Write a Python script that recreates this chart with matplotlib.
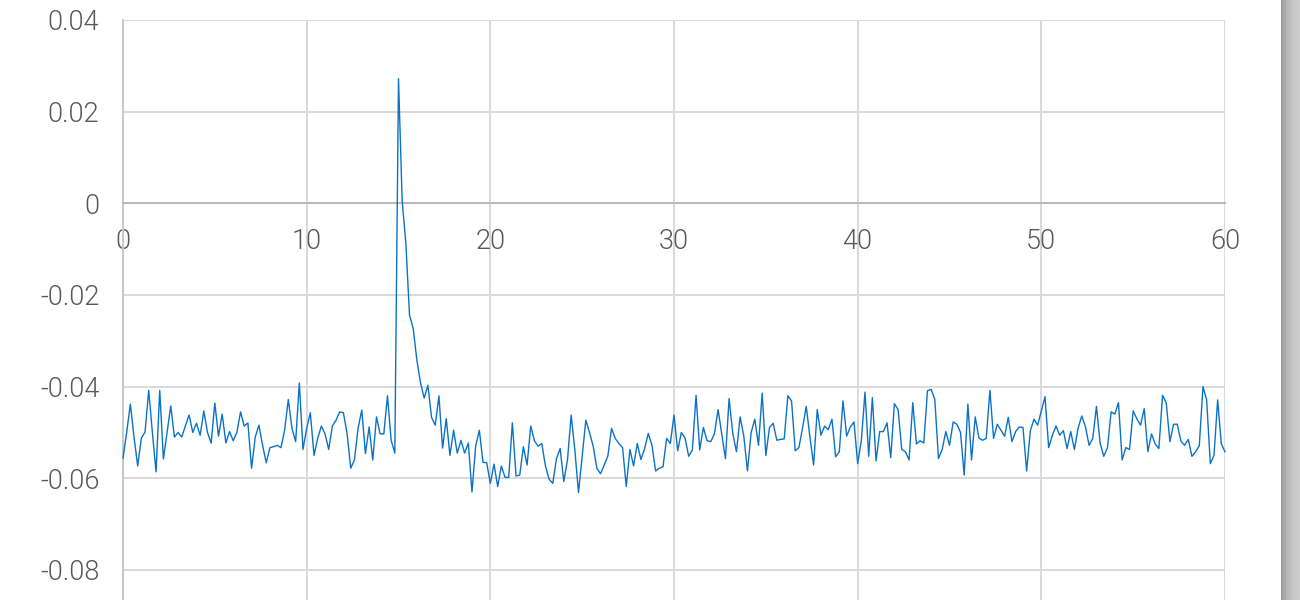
import numpy as np
import matplotlib
matplotlib.use("Agg")
import matplotlib.pyplot as plt
from matplotlib.colors import LinearSegmentedColormap

# ---- data ----
x_start, x_stop, n_points = 0.0, 60.0, 301
signal = [
    -0.0556, -0.0500, -0.0438, -0.0510, -0.0573, -0.0512, -0.0499, -0.0408, -0.0500, -0.0586,
    -0.0408, -0.0558, -0.0500, -0.0442, -0.0510, -0.0500, -0.0510, -0.0485, -0.0462, -0.0500,
    -0.0480, -0.0506, -0.0453, -0.0500, -0.0523, -0.0436, -0.0508, -0.0460, -0.0523, -0.0498,
    -0.0518, -0.0500, -0.0455, -0.0486, -0.0479, -0.0578, -0.0510, -0.0484, -0.0528, -0.0566,
    -0.0533, -0.0531, -0.0528, -0.0533, -0.0495, -0.0428, -0.0491, -0.0520, -0.0392, -0.0537,
    -0.0491, -0.0457, -0.0550, -0.0513, -0.0486, -0.0503, -0.0537, -0.0486, -0.0473, -0.0455,
    -0.0457, -0.0502, -0.0578, -0.0560, -0.0491, -0.0451, -0.0546, -0.0488, -0.0560, -0.0466,
    -0.0503, -0.0503, -0.0420, -0.0517, -0.0545, 0.0272, 0.0005, -0.0087, -0.0244, -0.0273,
    -0.0342, -0.0392, -0.0425, -0.0397, -0.0467, -0.0484, -0.0420, -0.0534, -0.0470, -0.0550,
    -0.0495, -0.0545, -0.0517, -0.0545, -0.0523, -0.0630, -0.0530, -0.0495, -0.0565, -0.0566,
    -0.0611, -0.0569, -0.0618, -0.0573, -0.0598, -0.0598, -0.0479, -0.0595, -0.0593, -0.0531,
    -0.0571, -0.0486, -0.0518, -0.0530, -0.0524, -0.0573, -0.0602, -0.0611, -0.0557, -0.0535,
    -0.0607, -0.0560, -0.0462, -0.0538, -0.0631, -0.0553, -0.0473, -0.0500, -0.0530, -0.0578,
    -0.0590, -0.0571, -0.0551, -0.0491, -0.0513, -0.0524, -0.0533, -0.0618, -0.0537, -0.0573,
    -0.0524, -0.0559, -0.0535, -0.0502, -0.0528, -0.0584, -0.0578, -0.0575, -0.0513, -0.0524,
    -0.0462, -0.0540, -0.0500, -0.0512, -0.0552, -0.0538, -0.0419, -0.0538, -0.0489, -0.0518,
    -0.0520, -0.0503, -0.0450, -0.0503, -0.0557, -0.0426, -0.0502, -0.0542, -0.0466, -0.0508,
    -0.0584, -0.0500, -0.0471, -0.0528, -0.0414, -0.0550, -0.0489, -0.0480, -0.0517, -0.0515,
    -0.0514, -0.0420, -0.0431, -0.0540, -0.0533, -0.0490, -0.0443, -0.0510, -0.0571, -0.0450,
    -0.0506, -0.0486, -0.0494, -0.0471, -0.0553, -0.0542, -0.0431, -0.0508, -0.0488, -0.0477,
    -0.0568, -0.0517, -0.0412, -0.0552, -0.0424, -0.0562, -0.0498, -0.0498, -0.0479, -0.0555,
    -0.0437, -0.0450, -0.0537, -0.0542, -0.0560, -0.0435, -0.0525, -0.0518, -0.0523, -0.0409,
    -0.0406, -0.0428, -0.0557, -0.0537, -0.0498, -0.0528, -0.0477, -0.0482, -0.0500, -0.0593,
    -0.0438, -0.0560, -0.0466, -0.0512, -0.0517, -0.0513, -0.0408, -0.0513, -0.0482, -0.0495,
    -0.0508, -0.0467, -0.0520, -0.0498, -0.0488, -0.0489, -0.0584, -0.0496, -0.0471, -0.0484,
    -0.0453, -0.0422, -0.0533, -0.0506, -0.0486, -0.0506, -0.0496, -0.0535, -0.0498, -0.0537,
    -0.0491, -0.0464, -0.0487, -0.0528, -0.0513, -0.0443, -0.0523, -0.0552, -0.0533, -0.0455,
    -0.0460, -0.0435, -0.0560, -0.0533, -0.0537, -0.0453, -0.0470, -0.0484, -0.0448, -0.0542,
    -0.0503, -0.0525, -0.0535, -0.0419, -0.0435, -0.0520, -0.0482, -0.0482, -0.0519, -0.0528,
    -0.0515, -0.0552, -0.0542, -0.0529, -0.0400, -0.0429, -0.0568, -0.0550, -0.0429, -0.0525,
    -0.0542,
]
x_ticks = [0, 10, 20, 30, 40, 50, 60]
y_ticks = [-0.08, -0.06, -0.04, -0.02, 0, 0.02, 0.04]
y_tick_labels = ["-0.08", "-0.06", "-0.04", "-0.02", "0", "0.02", "0.04"]

x = np.linspace(x_start, x_stop, n_points)
y = np.array(signal)

W, H = 1300, 600
fig = plt.figure(figsize=(W / 100, H / 100), dpi=100)
fig.patch.set_facecolor("white")

ax = fig.add_axes([123 / W, 0, (1225 - 123) / W, 580 / H])
ax.set_facecolor("white")
ax.set_xlim(0, 60)
ax.set_ylim(-0.08655, 0.04)

grid_c = "#d9d9d9"
ax.set_xticks(x_ticks)
ax.set_yticks(y_ticks)
ax.set_yticklabels(y_tick_labels)
ax.grid(True, color=grid_c, linewidth=1.4)
ax.set_axisbelow(True)

for s in ["top", "right"]:
    ax.spines[s].set_visible(False)
ax.spines["left"].set_color("#c8c8c8")
ax.spines["left"].set_linewidth(1.4)
ax.spines["bottom"].set_position(("data", 0))
ax.spines["bottom"].set_color("#b8b8b8")
ax.spines["bottom"].set_linewidth(1.4)

ax.tick_params(axis="both", length=0)
ax.tick_params(axis="x", pad=18)
ax.tick_params(axis="y", pad=17)
for lab in ax.get_xticklabels() + ax.get_yticklabels():
    lab.set_fontfamily(["Roboto", "DejaVu Sans"])
    lab.set_fontweight(300)
    lab.set_fontsize(19.5)
    lab.set_color("#595959")

ax.plot(x, y, color="#0a72c8", linewidth=1.0, clip_on=False, zorder=3)

# grey frame on the right edge
bar = fig.add_axes([1281 / W, 0, 19 / W, 1])
grad = np.linspace(0, 1, 64).reshape(1, -1)
cmap = LinearSegmentedColormap.from_list("g", ["#9a9a9a", "#b8b8b8", "#c9c9c9", "#cfcfcf"])
bar.imshow(grad, aspect="auto", cmap=cmap, extent=[0, 1, 0, 1])
bar.set_axis_off()

fig.savefig("out.png", dpi=100)
